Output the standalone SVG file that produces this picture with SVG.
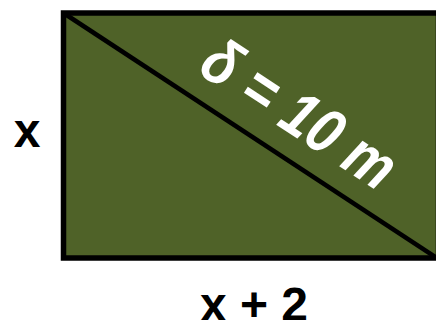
<svg xmlns="http://www.w3.org/2000/svg" width="436" height="320" viewBox="0 0 436 320">
<style>
.lbl{font-family:"Liberation Sans",Arial,sans-serif;font-weight:bold;font-size:48px;fill:#000}
.dlbl{font-family:"Liberation Sans",Arial,sans-serif;font-style:italic;font-weight:bold;font-size:56px;fill:#fff}
</style>
<rect width="436" height="320" fill="#fff"/>
<g id="rectangle">
<rect x="63.5" y="13" width="375" height="245" fill="#4f6228" stroke="#000" stroke-width="5.5"/>
</g>
<g id="connectors">
<line x1="63.5" y1="13" x2="437" y2="258" stroke="#000" stroke-width="4.5"/>
</g>
<g id="diagonal-label">
<text class="dlbl" transform="translate(196,72) rotate(33.3) scale(0.97,1.15)">δ = 10 m</text>
</g>
<g id="side-label">
<text class="lbl" x="27" y="147" text-anchor="middle">x</text>
</g>
<g id="bottom-label">
<text class="lbl" x="254" y="321" text-anchor="middle">x + 2</text>
</g>
</svg>
